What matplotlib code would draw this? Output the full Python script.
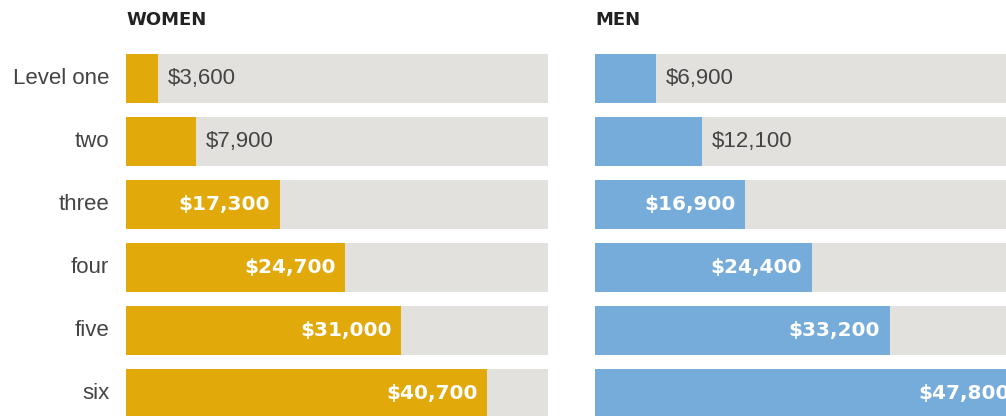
import matplotlib
matplotlib.use("Agg")
import matplotlib.pyplot as plt

# Data
levels = ["Level one", "two", "three", "four", "five", "six"]
women = [3600, 7900, 17300, 24700, 31000, 40700]
men = [6900, 12100, 16900, 24400, 33200, 47800]
scale_max = 48000
track_max = 47600
inside_threshold = 15000

plt.rcParams['font.family'] = ['Liberation Sans', 'DejaVu Sans']

W, H = 1006, 416
fig = plt.figure(figsize=(W / 100, H / 100), dpi=100)

# pixel geometry
row_top = 54
pitch = 63
bar_px = 49
center0 = row_top + bar_px / 2
ylim = ((H - center0) / pitch, (0 - center0) / pitch)
bar_h = bar_px / pitch
panel_w = 426


def draw_panel(left_px, values, color, title, show_labels):
    ax = fig.add_axes([left_px / W, 0, panel_w / W, 1])
    ax.set_xlim(0, scale_max)
    ax.set_ylim(*ylim)
    ax.axis("off")
    ys = range(len(values))
    ax.barh(ys, [track_max] * len(values), height=bar_h, color="#e2e1de", left=0)
    ax.barh(ys, values, height=bar_h, color=color, left=0)
    for y, v in zip(ys, values):
        txt = f"${v:,}"
        if v >= inside_threshold:
            ax.annotate(txt, (v, y), xytext=(-7, 0), textcoords="offset points",
                        ha="right", va="center", fontsize=14.5, fontweight="bold",
                        family="DejaVu Sans", color="white", clip_on=False)
        else:
            ax.annotate(txt, (v, y), xytext=(7, 0), textcoords="offset points",
                        ha="left", va="center", fontsize=16, color="#444444")
    ax.text(0, (20 - center0) / pitch, title, ha="left", va="center",
            fontsize=13, fontweight="bold", family="DejaVu Sans", color="#222222")
    if show_labels:
        for y, lab in zip(ys, levels):
            ax.annotate(lab, (0, y), xytext=(-12, 0), textcoords="offset points",
                        ha="right", va="center", fontsize=16, color="#444444")
    return ax


draw_panel(126, women, "#e2a90b", "WOMEN", True)
draw_panel(595, men, "#76acd9", "MEN", False)

fig.savefig("out.png", dpi=100)
